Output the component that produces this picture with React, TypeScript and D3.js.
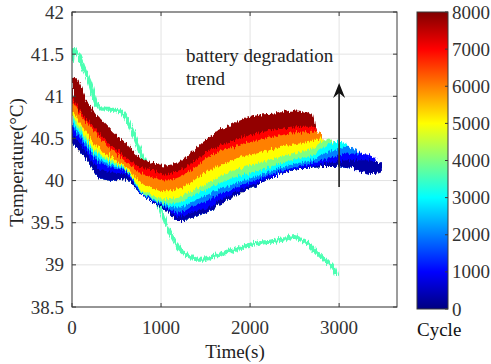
import React from 'react';
import * as d3 from 'd3';

// ---------- data ----------
const xTicks = [0, 1000, 2000, 3000];
const yTicks = [38.5, 39, 39.5, 40, 40.5, 41, 41.5, 42];
const cycleTicks = [0, 1000, 2000, 3000, 4000, 5000, 6000, 7000, 8000];

// upper edge of each cycle group (time s, temperature °C)
const cycle8000: [number, number][] = [[0,41.22],[50,41.21],[150,40.98],[300,40.76],[450,40.59],[600,40.45],[750,40.28],[900,40.21],[1050,40.18],[1200,40.22],[1350,40.34],[1500,40.48],[1700,40.62],[1900,40.72],[2100,40.78],[2300,40.8],[2500,40.83],[2600,40.82],[2700,40.79],[2740,40.55]];
const cycle7000: [number, number][] = [[0,41.0],[150,40.74],[300,40.57],[450,40.4],[600,40.28],[750,40.17],[900,40.12],[1050,40.07],[1200,40.12],[1350,40.21],[1500,40.33],[1700,40.43],[1900,40.51],[2100,40.57],[2300,40.61],[2500,40.63],[2600,40.64],[2700,40.64],[2770,40.52]];
const cycle6000: [number, number][] = [[0,40.96],[150,40.7],[300,40.52],[450,40.36],[600,40.23],[750,40.1],[900,40.04],[1050,40.0],[1200,40.04],[1350,40.13],[1500,40.26],[1700,40.36],[1900,40.43],[2100,40.48],[2300,40.53],[2500,40.56],[2600,40.57],[2700,40.58],[2800,40.56],[2830,40.45]];
const cycle5000: [number, number][] = [[0,40.84],[150,40.58],[300,40.39],[450,40.27],[600,40.17],[750,40.0],[900,39.92],[1050,39.87],[1200,39.9],[1350,39.99],[1500,40.1],[1700,40.2],[1900,40.28],[2100,40.33],[2300,40.39],[2500,40.43],[2600,40.45],[2700,40.47],[2800,40.5],[2870,40.4]];
const cycle4000: [number, number][] = [[0,40.79],[150,40.52],[300,40.33],[450,40.24],[600,40.15],[750,39.93],[900,39.83],[1050,39.78],[1200,39.8],[1350,39.88],[1500,39.96],[1700,40.07],[1900,40.15],[2100,40.21],[2300,40.27],[2500,40.32],[2600,40.35],[2700,40.38],[2800,40.46],[2900,40.5],[2950,40.4]];
const cycle3000: [number, number][] = [[0,40.75],[150,40.48],[300,40.3],[450,40.21],[600,40.14],[750,39.91],[900,39.79],[1050,39.73],[1200,39.74],[1350,39.82],[1500,39.89],[1700,39.99],[1900,40.06],[2100,40.12],[2300,40.19],[2500,40.25],[2600,40.27],[2700,40.3],[2800,40.38],[2900,40.44],[3000,40.46],[3100,40.41],[3130,40.32]];
const cycle2000: [number, number][] = [[0,40.7],[150,40.45],[300,40.26],[450,40.19],[600,40.13],[750,39.9],[900,39.78],[1050,39.71],[1200,39.68],[1350,39.75],[1500,39.82],[1700,39.92],[1900,39.99],[2100,40.06],[2300,40.14],[2500,40.2],[2600,40.22],[2700,40.24],[2800,40.3],[2900,40.35],[3000,40.38],[3100,40.4],[3200,40.36],[3260,40.28]];
const cycle1000: [number, number][] = [[0,40.65],[150,40.41],[300,40.22],[450,40.16],[600,40.12],[750,39.89],[900,39.77],[1050,39.69],[1200,39.62],[1350,39.69],[1500,39.75],[1700,39.86],[1900,39.94],[2100,40.02],[2300,40.1],[2500,40.16],[2600,40.18],[2700,40.2],[2800,40.24],[2900,40.27],[3000,40.3],[3100,40.32],[3200,40.32],[3300,40.31],[3400,40.27],[3420,40.2]];
const cycle0: [number, number][] = [[0,40.57],[150,40.35],[300,40.14],[450,40.1],[600,40.08],[750,39.88],[900,39.76],[1050,39.68],[1200,39.57],[1350,39.62],[1500,39.67],[1700,39.79],[1900,39.89],[2100,39.98],[2300,40.07],[2500,40.14],[2600,40.15],[2700,40.16],[2800,40.19],[2900,40.21],[3000,40.23],[3100,40.24],[3200,40.24],[3300,40.24],[3400,40.23],[3480,40.2]];
// lower edge of the whole family of curves
const bandBottom: [number, number][] = [[0,40.45],[150,40.27],[300,40.04],[450,40.0],[600,40.02],[750,39.87],[900,39.75],[1050,39.66],[1200,39.52],[1350,39.56],[1500,39.62],[1700,39.74],[1900,39.85],[2100,39.96],[2300,40.06],[2500,40.13],[2600,40.14],[2700,40.15],[2800,40.16],[2900,40.16],[3000,40.17],[3100,40.16],[3200,40.13],[3300,40.09],[3400,40.08],[3480,40.1]];
// the abnormal curve (~3600 cycles)
const outlierCycle = 3600;
const outlier: [number, number][] = [[0,41.41],[22,41.55],[45,41.53],[123,41.35],[202,41.16],[280,40.9],[392,40.84],[504,40.84],[594,40.76],[684,40.57],[762,40.36],[852,40.13],[942,39.83],[1009,39.62],[1099,39.39],[1211,39.19],[1323,39.1],[1435,39.06],[1626,39.11],[1805,39.17],[1996,39.24],[2186,39.27],[2365,39.3],[2500,39.33],[2590,39.29],[2668,39.24],[2758,39.14],[2859,39.04],[2926,38.98],[2960,38.88]];

const levels = [
  { cycle: 7850, data: cycle8000 },
  { cycle: 7000, data: cycle7000 },
  { cycle: 6000, data: cycle6000 },
  { cycle: 5000, data: cycle5000 },
  { cycle: 4000, data: cycle4000 },
  { cycle: 3000, data: cycle3000 },
  { cycle: 2000, data: cycle2000 },
  { cycle: 1000, data: cycle1000 },
  { cycle: 300, data: cycle0 },
];

// ---------- layout ----------
const W = 491, H = 364;
const L = 72, R = 397, T = 12, B = 307;
const CB = { x0: 417, x1: 448, y0: 12, y1: 309 };
const FONT = '"Liberation Serif", "Times New Roman", serif';

function jet(v: number) {
  const c = (x: number) => Math.max(0, Math.min(1, 1.5 - Math.abs(x)));
  return d3.rgb(c(4 * v - 3) * 255, c(4 * v - 2) * 255, c(4 * v - 1) * 255).formatHex();
}

export default function App() {
  const x = d3.scaleLinear().domain([0, 3650]).range([L, R]);
  const y = d3.scaleLinear().domain([38.5, 42]).range([B, T]);
  const cy = d3.scaleLinear().domain([0, 8000]).range([CB.y1, CB.y0]);
  const bottomAt = d3.scaleLinear().domain(bandBottom.map(d => d[0])).range(bandBottom.map(d => d[1])).clamp(true);

  const area = d3.area<[number, number]>()
    .x(d => x(d[0]))
    .y1(d => y(d[1]))
    .y0(d => y(bottomAt(d[0])))
    .curve(d3.curveMonotoneX);
  const line = d3.line<[number, number]>().x(d => x(d[0])).y(d => y(d[1])).curve(d3.curveMonotoneX);

  const jetStops = [0, 0.125, 0.375, 0.625, 0.875, 1];
  const axisColor = '#3a3a3a';
  const tickColor = '#333';
  const tl = 4;

  return (
    <svg width={W} height={H} style={{ position: 'fixed', left: 0, top: 0, background: '#fff' }} fontFamily={FONT}>
      <defs>
        <clipPath id="plotClip"><rect x={L} y={T} width={R - L} height={B - T} /></clipPath>
        <filter id="jit" filterUnits="userSpaceOnUse" x={L - 10} y={T - 10} width={R - L + 20} height={B - T + 20}>
          <feTurbulence type="fractalNoise" baseFrequency="0.75 0.05" numOctaves="2" seed="7" result="noise" />
          <feDisplacementMap in="SourceGraphic" in2="noise" scale="7" xChannelSelector="B" yChannelSelector="G" />
        </filter>
        <linearGradient id="jetGrad" x1="0" y1="1" x2="0" y2="0">
          {jetStops.map(s => <stop key={s} offset={s} stopColor={jet(s)} />)}
        </linearGradient>
      </defs>
      <rect x={0} y={0} width={W} height={H} fill="#fff" />
      {/* grid */}
      <g stroke="#e3e3e3" strokeWidth={1}>
        {yTicks.map(v => <line key={'gy' + v} x1={L} x2={R} y1={y(v)} y2={y(v)} />)}
        {xTicks.map(v => <line key={'gx' + v} x1={x(v)} x2={x(v)} y1={T} y2={B} />)}
      </g>
      <g clipPath="url(#plotClip)">
        <g filter="url(#jit)">
          <path d={line(outlier) || ''} fill="none" stroke={jet(outlierCycle / 8000)} strokeWidth={4} />
          {levels.map(lv => (
            <path key={lv.cycle} d={area(lv.data) || ''} fill={jet(lv.cycle / 8000)} />
          ))}
        </g>
      </g>
      {/* axes box */}
      <rect x={L} y={T} width={R - L} height={B - T} fill="none" stroke={axisColor} strokeWidth={1} />
      <g stroke={axisColor} strokeWidth={1}>
        {yTicks.map(v => (
          <g key={'ty' + v}>
            <line x1={L} x2={L + tl} y1={y(v)} y2={y(v)} />
            <line x1={R} x2={R - tl} y1={y(v)} y2={y(v)} />
          </g>
        ))}
        {xTicks.map(v => (
          <g key={'tx' + v}>
            <line x1={x(v)} x2={x(v)} y1={B} y2={B - tl} />
            <line x1={x(v)} x2={x(v)} y1={T} y2={T + tl} />
          </g>
        ))}
      </g>
      <g fill={tickColor} fontSize={19}>
        {yTicks.map(v => (
          <text key={'ly' + v} x={L - 8} y={y(v)} textAnchor="end" dominantBaseline="central">{v}</text>
        ))}
        {xTicks.map(v => (
          <text key={'lx' + v} x={x(v)} y={327} textAnchor="middle" dominantBaseline="central">{v}</text>
        ))}
      </g>
      <text x={235} y={358} textAnchor="middle" fontSize={19} fill="#222">Time(s)</text>
      <text transform={`translate(23,${(T + B) / 2 + 3}) rotate(-90)`} textAnchor="middle" fontSize={19} fill="#222">Temperature(°C)</text>
      {/* annotation */}
      <text x={186} y={62} fontSize={19} fill="#222">battery degradation</text>
      <text x={186} y={85} fontSize={19} fill="#222">trend</text>
      <line x1={x(3000)} x2={x(3000)} y1={187} y2={92} stroke="#333" strokeWidth={1.8} />
      <path d={`M${x(3000)},83 L${x(3000) + 6},98 L${x(3000)},93 L${x(3000) - 6},98 Z`} fill="#111" />
      {/* colorbar */}
      <rect x={CB.x0} y={CB.y0} width={CB.x1 - CB.x0} height={CB.y1 - CB.y0} fill="url(#jetGrad)" stroke={axisColor} strokeWidth={1} />
      <g stroke={axisColor} strokeWidth={1}>
        {cycleTicks.map(v => <line key={'ct' + v} x1={CB.x1} x2={CB.x1 - 3} y1={cy(v)} y2={cy(v)} />)}
      </g>
      <g fill={tickColor} fontSize={19}>
        {cycleTicks.map(v => (
          <text key={'cl' + v} x={452} y={cy(v)} dominantBaseline="central">{v}</text>
        ))}
      </g>
      <text x={417} y={336} fontSize={19} fill="#111">Cycle</text>
    </svg>
  );
}
